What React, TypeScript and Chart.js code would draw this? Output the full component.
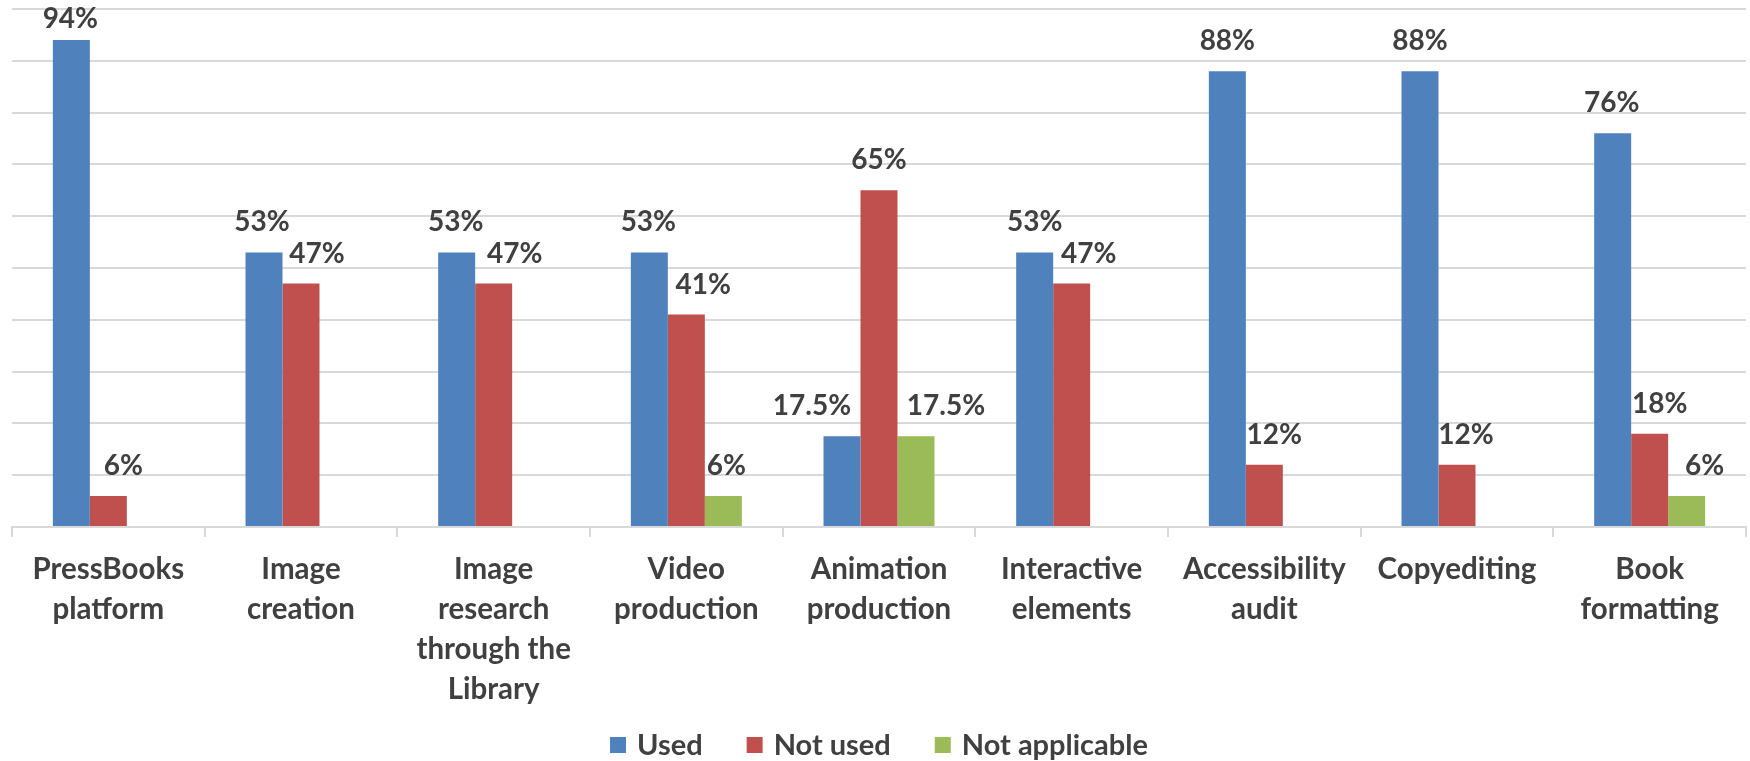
import React, { useEffect, useRef } from "react";
import { Chart, registerables } from "chart.js";

Chart.register(...registerables);

const categories: string[][] = [
  ["PressBooks", "platform"],
  ["Image", "creation"],
  ["Image", "research", "through the", "Library"],
  ["Video", "production"],
  ["Animation", "production"],
  ["Interactive", "elements"],
  ["Accessibility", "audit"],
  ["Copyediting"],
  ["Book", "formatting"],
];
const seriesNames = ["Used", "Not used", "Not applicable"];
const usedValues = [94, 53, 53, 53, 17.5, 53, 88, 88, 76];
const notUsedValues = [6, 47, 47, 41, 65, 47, 12, 12, 18];
const notApplicableValues = [null, null, null, 6, 17.5, null, null, null, 6];
const yMin = 0;
const yMax = 100;
const yStep = 10;

// horizontal nudges of the value labels (label placement only)
const usedLabelNudge = [-1, -2, -1, -1, -30, 0, 0, 0, -1];
const notUsedLabelNudge = [15, 16, 21, 17, 0, 17, 10, 9, 10];
const notApplicableLabelNudge = [0, 0, 0, 3, 30, 0, 0, 0, 18];

const seriesColors = ["#4F81BD", "#C0504D", "#9BBB59"];
const textColor = "#404040";
const gridColor = "#d9d9d9";
const FONT = "Lato, 'Open Sans', sans-serif";
const LABEL_SIZE = 28;
const TICK_SIZE = 29.5;
const LEGEND_SIZE = 29;

const W = 1750;
const H = 761;

export default function App() {
  const ref = useRef<HTMLCanvasElement | null>(null);

  useEffect(() => {
    document.body.style.margin = "0";
    const canvas = ref.current;
    if (!canvas) return;
    const nudges = [usedLabelNudge, notUsedLabelNudge, notApplicableLabelNudge];

    const dataLabelPlugin = {
      id: "valueLabels",
      afterDatasetsDraw(chart: any) {
        const ctx = chart.ctx;
        ctx.save();
        ctx.font = `bold ${LABEL_SIZE}px ${FONT}`;
        ctx.fillStyle = textColor;
        ctx.textAlign = "center";
        ctx.textBaseline = "alphabetic";
        chart.data.datasets.forEach((ds: any, di: number) => {
          const meta = chart.getDatasetMeta(di);
          meta.data.forEach((el: any, i: number) => {
            const v = ds.data[i];
            if (v === null || v === undefined) return;
            const y = Math.max(el.y - 21, chart.chartArea.top + 19);
            ctx.fillText(`${v}%`, el.x + (nudges[di][i] || 0), y);
          });
        });
        ctx.restore();
      },
    };

    const legendPlugin = {
      id: "bottomLegend",
      afterDraw(chart: any) {
        const ctx = chart.ctx;
        ctx.save();
        ctx.font = `bold ${LEGEND_SIZE}px ${FONT}`;
        const box = 16;
        const gap = 11;
        const spacing = 44;
        const items = chart.data.datasets.map((ds: any) => ({
          label: ds.label,
          color: ds.backgroundColor,
          w: box + gap + ctx.measureText(ds.label).width,
        }));
        const total =
          items.reduce((s: number, it: any) => s + it.w, 0) + spacing * (items.length - 1);
        let x = (chart.chartArea.left + chart.chartArea.right) / 2 - total / 2;
        const yc = 745;
        ctx.textBaseline = "middle";
        ctx.textAlign = "left";
        items.forEach((it: any) => {
          ctx.fillStyle = it.color;
          ctx.fillRect(x, yc - box / 2, box, box);
          ctx.fillStyle = textColor;
          ctx.fillText(it.label, x + box + gap, yc + 1);
          x += it.w + spacing;
        });
        ctx.restore();
      },
    };

    const chart = new Chart(canvas, {
      type: "bar",
      data: {
        labels: categories,
        datasets: [
          { label: seriesNames[0], data: usedValues, backgroundColor: seriesColors[0] },
          { label: seriesNames[1], data: notUsedValues, backgroundColor: seriesColors[1] },
          { label: seriesNames[2], data: notApplicableValues as any, backgroundColor: seriesColors[2] },
        ],
      },
      options: {
        responsive: false,
        animation: false,
        layout: { padding: { left: 12, right: 4, top: 9, bottom: 0 } },
        datasets: {
          bar: { categoryPercentage: 0.576, barPercentage: 1.0, borderWidth: 0 },
        },
        plugins: {
          legend: { display: false },
          tooltip: { enabled: false },
          title: { display: false },
        },
        scales: {
          x: {
            grid: {
              offset: true,
              drawOnChartArea: false,
              drawTicks: true,
              tickLength: 10,
              color: gridColor,
              lineWidth: 2,
            },
            border: { display: true, color: gridColor, width: 2 },
            ticks: {
              color: textColor,
              font: { family: FONT, weight: "bold", size: TICK_SIZE, lineHeight: 40 / TICK_SIZE },
              padding: 12,
              maxRotation: 0,
              autoSkip: false,
            },
            afterFit: (s: any) => {
              s.height = H - 527;
            },
          },
          y: {
            min: yMin,
            max: yMax,
            ticks: { display: false, stepSize: yStep },
            grid: { color: gridColor, lineWidth: 2, drawTicks: false },
            border: { display: false },
            afterFit: (s: any) => {
              s.width = 0;
            },
          },
        },
      },
      plugins: [dataLabelPlugin, legendPlugin],
    });
    return () => chart.destroy();
  }, []);

  return (
    <div style={{ width: W, height: H, background: "#fff" }}>
      <canvas ref={ref} width={W} height={H} style={{ display: "block" }} />
    </div>
  );
}
